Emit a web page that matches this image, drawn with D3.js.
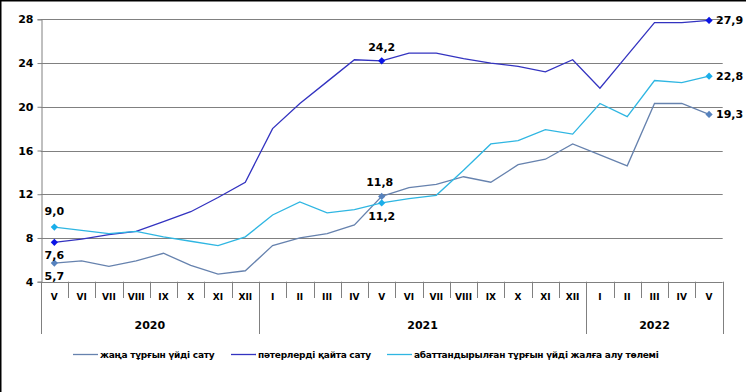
<!DOCTYPE html>
<html>
<head>
<meta charset="utf-8">
<script src="https://cdn.jsdelivr.net/npm/d3@7"></script>
<style>
  body { margin: 0; background: #fff; }
  text { font-family: "DejaVu Sans", Verdana, sans-serif; font-weight: bold; fill: #000; }
</style>
</head>
<body>
<svg width="746" height="392"></svg>
<script>
var width = 746;
var height = 392;

// data
var months = ["V","VI","VII","VIII","IX","X","XI","XII","I","II","III","IV","V","VI","VII","VIII","IX","X","XI","XII","I","II","III","IV","V"];
var years = [["2020", 0, 8], ["2021", 8, 20], ["2022", 20, 25]];
var yTicks = [4, 8, 12, 16, 20, 24, 28];

var newSale = [5.7, 5.9, 5.4, 5.9, 6.6, 5.5, 4.7, 5.0, 7.3, 8.0, 8.4, 9.2, 11.8, 12.6, 12.9, 13.6, 13.1, 14.7, 15.2, 16.6, 15.6, 14.6, 20.3, 20.3, 19.3];
var resale = [7.6, 7.9, 8.3, 8.6, 9.5, 10.4, 11.7, 13.1, 18.0, 20.3, 22.3, 24.3, 24.2, 24.9, 24.9, 24.4, 24.0, 23.7, 23.2, 24.3, 21.7, 24.7, 27.7, 27.7, 27.9];
var rent = [9.0, 8.7, 8.4, 8.6, 8.1, 7.7, 7.3, 8.1, 10.1, 11.3, 10.3, 10.6, 11.2, 11.6, 11.9, 14.2, 16.6, 16.9, 17.9, 17.5, 20.3, 19.1, 22.4, 22.2, 22.8];

var seriesNames = ["жаңа тұрғын  үйді сату", "пәтерлерді қайта сату", "абаттандырылған тұрғын  үйді жалға алу төлемі"];
var lineColors = ["#6682AE", "#3333C0", "#2FB6E2"];
var markColors = ["#5682BE", "#0A14E6", "#1AAEEA"];
var allSeries = [newSale, resale, rent];
var markIdx = [0, 12, 24];

var svg = d3.select("svg").attr("width", width).attr("height", height);

// outer frame (only left and top visible in the picture)
svg.append("rect").attr("x", 0.5).attr("y", 0.5).attr("width", width + 10).attr("height", height + 10)
  .attr("fill", "none").attr("stroke", "#000").attr("stroke-width", 2);

var x0 = 40.7, x1 = 722.7, yTop = 19.3, yBot = 281.7;
var x = d3.scaleBand().domain(d3.range(months.length)).range([x0, x1]).padding(0);
var y = d3.scaleLinear().domain([4, 28]).range([yBot, yTop]);
var cx = function(i){ return x(i) + x.bandwidth() / 2; };

// grid
svg.append("g").selectAll("line").data(yTicks.slice(1)).enter().append("line")
  .attr("x1", x0).attr("x2", x1)
  .attr("y1", function(d){ return Math.round(y(d)) + 0.5; })
  .attr("y2", function(d){ return Math.round(y(d)) + 0.5; })
  .attr("stroke", "#808080").attr("stroke-width", 1);

// y axis
var yAxis = svg.append("g").attr("transform", "translate(" + (Math.round(x0) + 0.5) + ",0)")
  .call(d3.axisLeft(y).tickValues(yTicks).tickSize(4).tickPadding(4).tickFormat(d3.format("d")));
yAxis.select(".domain").attr("stroke", "#808080");
yAxis.selectAll(".tick line").attr("stroke", "#808080");
yAxis.selectAll("text").style("font-size", "11px").style("font-family", "'DejaVu Sans', sans-serif")
  .style("font-weight", "bold").attr("fill", "#000");

// category axis
var xa = svg.append("g");
xa.append("line").attr("x1", x0).attr("x2", x1)
  .attr("y1", Math.round(yBot) + 0.5).attr("y2", Math.round(yBot) + 0.5).attr("stroke", "#808080");
xa.selectAll("line.mt").data(d3.range(months.length + 1)).enter().append("line")
  .attr("class", "mt")
  .attr("x1", function(i){ return Math.round(i < months.length ? x(i) : x1) + 0.5; })
  .attr("x2", function(i){ return Math.round(i < months.length ? x(i) : x1) + 0.5; })
  .attr("y1", yBot)
  .attr("y2", function(i){ return (i === 0 || i === 8 || i === 20 || i === 25) ? 334 : 298; })
  .attr("stroke", "#808080");
xa.selectAll("text.m").data(months).enter().append("text")
  .attr("class", "m")
  .attr("x", function(d, i){ return cx(i); })
  .attr("y", 300)
  .attr("text-anchor", "middle")
  .style("font-size", "9px")
  .text(function(d){ return d; });
xa.selectAll("text.yr").data(years).enter().append("text")
  .attr("class", "yr")
  .attr("x", function(d){ return (x(d[1]) + (d[2] < months.length ? x(d[2]) : x1)) / 2; })
  .attr("y", 329)
  .attr("text-anchor", "middle")
  .style("font-size", "11px")
  .text(function(d){ return d[0]; });

// lines
var line = d3.line().x(function(d, i){ return cx(i); }).y(function(d){ return y(d); });
svg.append("g").selectAll("path").data(allSeries).enter().append("path")
  .attr("d", line)
  .attr("fill", "none")
  .attr("stroke", function(d, i){ return lineColors[i]; })
  .attr("stroke-width", 1.3);

// markers (square turned 45 degrees)
var diamond = d3.symbol().type(d3.symbolSquare).size(26);
allSeries.forEach(function(s, k){
  svg.append("g").selectAll("path").data(markIdx).enter().append("path")
    .attr("d", diamond)
    .attr("transform", function(i){ return "translate(" + cx(i) + "," + y(s[i]) + ") rotate(45)"; })
    .attr("fill", markColors[k]);
});

// value labels: [series, index, dx, dy, anchor]
var fmt = function(v){ return v.toFixed(1).replace(".", ","); };
var labels = [
  [2, 0, 0, -12, "middle"], [1, 0, 0, 17, "middle"], [0, 0, 0, 17, "middle"],
  [1, 12, 0, -10, "middle"], [0, 12, -2, -10, "middle"], [2, 12, 0, 17, "middle"],
  [1, 24, 7, 4, "start"], [2, 24, 7, 4, "start"], [0, 24, 7, 4, "start"]
];
svg.append("g").selectAll("text").data(labels).enter().append("text")
  .attr("x", function(d){ return cx(d[1]) + d[2]; })
  .attr("y", function(d){ return y(allSeries[d[0]][d[1]]) + d[3]; })
  .attr("text-anchor", function(d){ return d[4]; })
  .style("font-size", "11px")
  .text(function(d){ return fmt(allSeries[d[0]][d[1]]); });

// legend
var legX = [73, 231, 387];
var leg = svg.append("g").selectAll("g").data(seriesNames).enter().append("g")
  .attr("transform", function(d, i){ return "translate(" + legX[i] + ",354)"; });
leg.append("line").attr("x1", 0).attr("x2", 25).attr("y1", 0.5).attr("y2", 0.5)
  .attr("stroke", function(d, i){ return lineColors[i]; }).attr("stroke-width", 1.3);
leg.append("text").attr("x", 27).attr("y", 3.5)
  .style("font-size", "9px")
  .style("letter-spacing", "-0.25px")
  .text(function(d){ return d; });
</script>
</body>
</html>
